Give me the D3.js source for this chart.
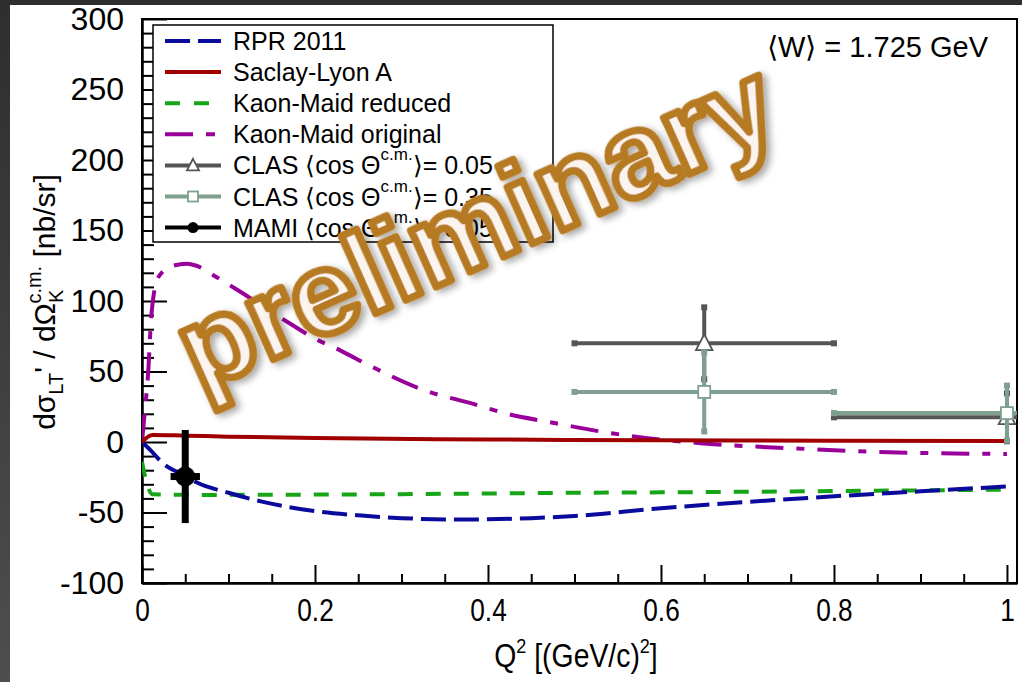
<!DOCTYPE html>
<html>
<head>
<meta charset="utf-8">
<script src="https://cdn.jsdelivr.net/npm/d3@7"></script>
<style>
  html, body { margin: 0; padding: 0; background: #fff; }
  svg { display: block; }
  text { font-family: "Liberation Sans", Arial, sans-serif; }
</style>
</head>
<body>
<svg id="chart" width="1022" height="682"></svg>
<script>
// ---------------- DATA ----------------
const xTicksMajor = [0, 0.2, 0.4, 0.6, 0.8, 1];
const xTickLabels = ["0", "0.2", "0.4", "0.6", "0.8", "1"];
const yTicksMajor = [-100, -50, 0, 50, 100, 150, 200, 250, 300];
const yTickLabels = ["-100", "-50", "0", "50", "100", "150", "200", "250", "300"];

// RPR 2011
const rprQ2  = [0, 0.01, 0.024, 0.05, 0.063, 0.1, 0.14, 0.2, 0.25, 0.3, 0.37, 0.45, 0.5, 0.6, 0.7, 0.8, 0.9, 1.0];
const rprVal = [0, -6, -15, -24, -28.6, -36, -42.5, -49, -52, -54, -55, -54, -52.5, -47, -42.5, -38.5, -35, -31.5];
// Saclay-Lyon A
const slaQ2  = [0, 0.012, 0.05, 0.1, 0.2, 0.4, 0.6, 0.8, 1.0];
const slaVal = [0, 5, 4.5, 3.8, 2.8, 1.8, 1.2, 0.9, 0.7];
// Kaon-Maid reduced
const kmrQ2  = [0, 0.005, 0.012, 0.05, 0.1, 0.2, 0.3, 0.4, 0.5, 0.6, 0.7, 0.8, 0.9, 1.0];
const kmrVal = [-14, -28, -37, -37.5, -37.5, -37.3, -37, -36.5, -36, -35.7, -35.3, -34.8, -34.3, -33.8];
// Kaon-Maid original
const kmoQ2  = [0, 0.003, 0.007, 0.011, 0.019, 0.036, 0.052, 0.063, 0.086, 0.11, 0.171, 0.198, 0.229, 0.267, 0.325, 0.383, 0.422, 0.472, 0.545, 0.649, 0.753, 0.85, 0.92, 1.0];
const kmoVal = [0, 20, 48, 91, 117, 125, 126.5, 125, 117, 108, 84, 74, 65, 53, 37, 27, 20, 14, 6, -1, -4.5, -7, -8, -8.5];

// Data points
const clas05Q2 = [0.65, 1.0], clas05Val = [70, 17.5], clas05dQ = [0.15, 0.2], clas05dV = [25.5, 17];
const clas35Q2 = [0.65, 1.0], clas35Val = [35.5, 20.5], clas35dQ = [0.15, 0.2], clas35dV = [28, 19.5];
const mamiQ2 = [0.05], mamiVal = [-24.5], mamidQ = [0.017], mamidV = [33];

const legendLabels = ["RPR 2011", "Saclay-Lyon A", "Kaon-Maid reduced", "Kaon-Maid original",
  "CLAS \u27E8cos \u0398|\u27E9= 0.05", "CLAS \u27E8cos \u0398|\u27E9= 0.35", "MAMI \u27E8cos \u0398|\u27E9= 0.05"];

// ---------------- STYLE ----------------
const C = {
  rpr: "#0a0a9c", sla: "#a00000", kmr: "#16a516", kmo: "#990099",
  c05: "#555555", c35: "#7f9f8f", mami: "#000000"
};

const svg = d3.select("#chart");
const W = 1022, H = 682;
const L = 142, R = 1017, T = 19, B = 583;

const x = d3.scaleLinear().domain([0, 1.0116]).range([L, R]);
const y = d3.scaleLinear().domain([-100, 300]).range([B, T]);

// background & dark edges
svg.append("rect").attr("width", W).attr("height", H).attr("fill", "#fff");
const defs = svg.append("defs");
const lg = defs.append("linearGradient").attr("id", "edge").attr("x1", 0).attr("y1", 0).attr("x2", 0).attr("y2", 1);
lg.append("stop").attr("offset", "0").attr("stop-color", "#2e2e2e");
lg.append("stop").attr("offset", "1").attr("stop-color", "#4e4e4e");
svg.append("rect").attr("x", 0).attr("y", 0).attr("width", 10).attr("height", H).attr("fill", "url(#edge)");
svg.append("rect").attr("x", 0).attr("y", 0).attr("width", W).attr("height", 5).attr("fill", "#2e2e2e");

defs.append("clipPath").attr("id", "plotclip").append("rect")
  .attr("x", L).attr("y", T).attr("width", R - L).attr("height", B - T);

const shadow = defs.append("filter").attr("id", "shadow").attr("x", "-20%").attr("y", "-20%").attr("width", "140%").attr("height", "140%");
shadow.append("feDropShadow").attr("dx", 3).attr("dy", 4).attr("stdDeviation", 3.5)
  .attr("flood-color", "#000").attr("flood-opacity", 0.35);

// ---------------- AXES ----------------
const xMinor = d3.range(0, 1.0001, 0.05).filter(v => Math.abs(v * 5 - Math.round(v * 5)) > 1e-6);
const yMinor = d3.range(-100, 300.001, 10).filter(v => v % 50 !== 0);

const gx = svg.append("g").attr("transform", `translate(0,${B})`);
gx.call(d3.axisBottom(x).tickValues(xMinor).tickSize(-9).tickFormat("").tickSizeOuter(0));
const gx2 = svg.append("g").attr("transform", `translate(0,${B})`);
gx2.call(d3.axisBottom(x).tickValues(xTicksMajor).tickSize(-18).tickSizeOuter(0).tickPadding(15)
  .tickFormat((d, i) => xTickLabels[i]));
const gy = svg.append("g").attr("transform", `translate(${L},0)`);
gy.call(d3.axisLeft(y).tickValues(yMinor).tickSize(-12).tickFormat("").tickSizeOuter(0));
const gy2 = svg.append("g").attr("transform", `translate(${L},0)`);
gy2.call(d3.axisLeft(y).tickValues(yTicksMajor).tickSize(-25).tickSizeOuter(0).tickPadding(18)
  .tickFormat((d, i) => yTickLabels[i]));

[gx, gx2, gy, gy2].forEach(g => {
  g.selectAll(".domain").attr("stroke", "#000").attr("stroke-width", 2);
  g.selectAll(".tick line").attr("stroke", "#000").attr("stroke-width", 2);
});
gx2.selectAll(".tick text").attr("font-size", 32).attr("fill", "#000")
  .attr("font-family", "'Liberation Sans', Arial, sans-serif").attr("transform", "scale(0.82,1)");
gy2.selectAll(".tick text").attr("font-size", 32).attr("fill", "#000")
  .attr("font-family", "'Liberation Sans', Arial, sans-serif");

// frame
svg.append("rect").attr("x", L).attr("y", T).attr("width", R - L).attr("height", B - T)
  .attr("fill", "none").attr("stroke", "#000").attr("stroke-width", 2);

// axis titles
const xt = svg.append("text").attr("transform", "translate(576,667) scale(0.86,1)")
  .attr("text-anchor", "middle").attr("font-size", 33).attr("fill", "#000");
xt.append("tspan").text("Q");
xt.append("tspan").attr("font-size", 21).attr("dy", -14).text("2");
xt.append("tspan").attr("dy", 14).text(" [(GeV/c)");
xt.append("tspan").attr("font-size", 21).attr("dy", -14).text("2");
xt.append("tspan").attr("dy", 14).text("]");

const yt = svg.append("text").attr("transform", "translate(55,302) rotate(-90)")
  .attr("text-anchor", "middle").attr("font-size", 30).attr("fill", "#000");
yt.append("tspan").text("d\u03C3");
yt.append("tspan").attr("font-size", 20).attr("dy", 8).text("LT");
yt.append("tspan").attr("dy", -8).text("' / d\u03A9");
yt.append("tspan").attr("font-size", 20).attr("dy", 8).text("K");
yt.append("tspan").attr("font-size", 20).attr("dy", -22).attr("dx", -14).text("c.m.");
yt.append("tspan").attr("dy", 14).text(" [nb/sr]");

// ---------------- CURVES ----------------
const plot = svg.append("g").attr("clip-path", "url(#plotclip)");
const line = d3.line().x(d => x(d[0])).y(d => y(d[1])).curve(d3.curveMonotoneX);
function curve(qs, vs, color, dash) {
  plot.append("path").datum(qs.map((q, i) => [q, vs[i]]))
    .attr("d", line).attr("fill", "none").attr("stroke", color).attr("stroke-width", 4)
    .attr("stroke-dasharray", dash);
}
curve(kmoQ2, kmoVal, C.kmo, "28,13,8,13");
curve(kmrQ2, kmrVal, C.kmr, "15,13");
curve(rprQ2, rprVal, C.rpr, "25,8");
curve(slaQ2, slaVal, C.sla, null);

// ---------------- DATA POINTS ----------------
function errPoints(qs, vs, dqs, dvs, color, lw, capS, marker) {
  const g = plot.append("g");
  qs.forEach((q, i) => {
    const v = vs[i], dq = dqs[i], dv = dvs[i];
    g.append("line").attr("x1", x(q - dq)).attr("x2", x(q + dq)).attr("y1", y(v)).attr("y2", y(v))
      .attr("stroke", color).attr("stroke-width", lw);
    g.append("line").attr("x1", x(q)).attr("x2", x(q)).attr("y1", y(v - dv)).attr("y2", y(v + dv))
      .attr("stroke", color).attr("stroke-width", lw);
    if (capS > 0) {
      [[x(q - dq), y(v)], [x(q + dq), y(v)], [x(q), y(v - dv)], [x(q), y(v + dv)]].forEach(p => {
        g.append("rect").attr("x", p[0] - capS / 2).attr("y", p[1] - capS / 2)
          .attr("width", capS).attr("height", capS).attr("fill", color);
      });
    }
    marker(g, x(q), y(v));
  });
}
const tri = (color, s) => (g, cx, cy) => g.append("path")
  .attr("d", `M${cx},${cy - s * 0.6}L${cx + s * 0.55},${cy + s * 0.45}L${cx - s * 0.55},${cy + s * 0.45}Z`)
  .attr("fill", "#fff").attr("stroke", color).attr("stroke-width", 1.8);
const sq = (color, s) => (g, cx, cy) => g.append("rect")
  .attr("x", cx - s / 2).attr("y", cy - s / 2).attr("width", s).attr("height", s)
  .attr("fill", "#fff").attr("stroke", color).attr("stroke-width", 1.8);
const circ = (color, r) => (g, cx, cy) => g.append("circle")
  .attr("cx", cx).attr("cy", cy).attr("r", r).attr("fill", color);

errPoints(clas05Q2, clas05Val, clas05dQ, clas05dV, C.c05, 4, 6, tri(C.c05, 15));
errPoints(clas35Q2, clas35Val, clas35dQ, clas35dV, C.c35, 4, 6, sq(C.c35, 12));
errPoints(mamiQ2, mamiVal, mamidQ, mamidV, C.mami, 7, 0, circ(C.mami, 10));

// ---------------- LEGEND ----------------
const lx = 153, ly = 25, lw = 400, lh = 217;
svg.append("rect").attr("x", lx).attr("y", ly).attr("width", lw).attr("height", lh)
  .attr("fill", "#fff").attr("stroke", "#000").attr("stroke-width", 1.5);
const rowY = i => 41 + i * 31.1;
const legStyles = [
  { c: C.rpr, dash: "25,8" }, { c: C.sla, dash: null }, { c: C.kmr, dash: "15,14" },
  { c: C.kmo, dash: "28,13,9,13" }, { c: C.c05, m: "tri" }, { c: C.c35, m: "sq" }, { c: C.mami, m: "circ" }
];
legStyles.forEach((s, i) => {
  const yy = rowY(i);
  svg.append("line").attr("x1", 165).attr("x2", 221).attr("y1", yy).attr("y2", yy)
    .attr("stroke", s.c).attr("stroke-width", 4).attr("stroke-dasharray", s.dash);
  const g = svg.append("g");
  if (s.m === "tri") tri(s.c, 11)(g, 193, yy);
  if (s.m === "sq") sq(s.c, 10)(g, 193, yy);
  if (s.m === "circ") circ(s.c, 5.5)(g, 193, yy);
  const t = svg.append("text").attr("x", 233).attr("y", yy + 9).attr("font-size", 25).attr("fill", "#000");
  const parts = legendLabels[i].split("|");
  t.append("tspan").text(parts[0]);
  if (parts.length > 1) {
    t.append("tspan").attr("font-size", 17).attr("dy", -14).text("c.m.");
    t.append("tspan").attr("dy", 14).text(parts[1]);
  }
});

// W label
svg.append("text").attr("x", 988).attr("y", 57).attr("text-anchor", "end")
  .attr("font-size", 29).attr("fill", "#000").text("\u27E8W\u27E9 = 1.725 GeV");

// preliminary stamp
svg.append("text").attr("transform", "translate(492,262) rotate(-24)")
  .attr("text-anchor", "middle").attr("font-family", "'Open Sans', sans-serif")
  .attr("font-weight", 600).attr("font-size", 116)
  .attr("textLength", 640).attr("lengthAdjust", "spacingAndGlyphs")
  .attr("fill", "#fbf3ee").attr("stroke", "#b67a22").attr("stroke-width", 7.5)
  .attr("stroke-linejoin", "round").attr("filter", "url(#shadow)")
  .text("preliminary");
</script>
</body>
</html>
